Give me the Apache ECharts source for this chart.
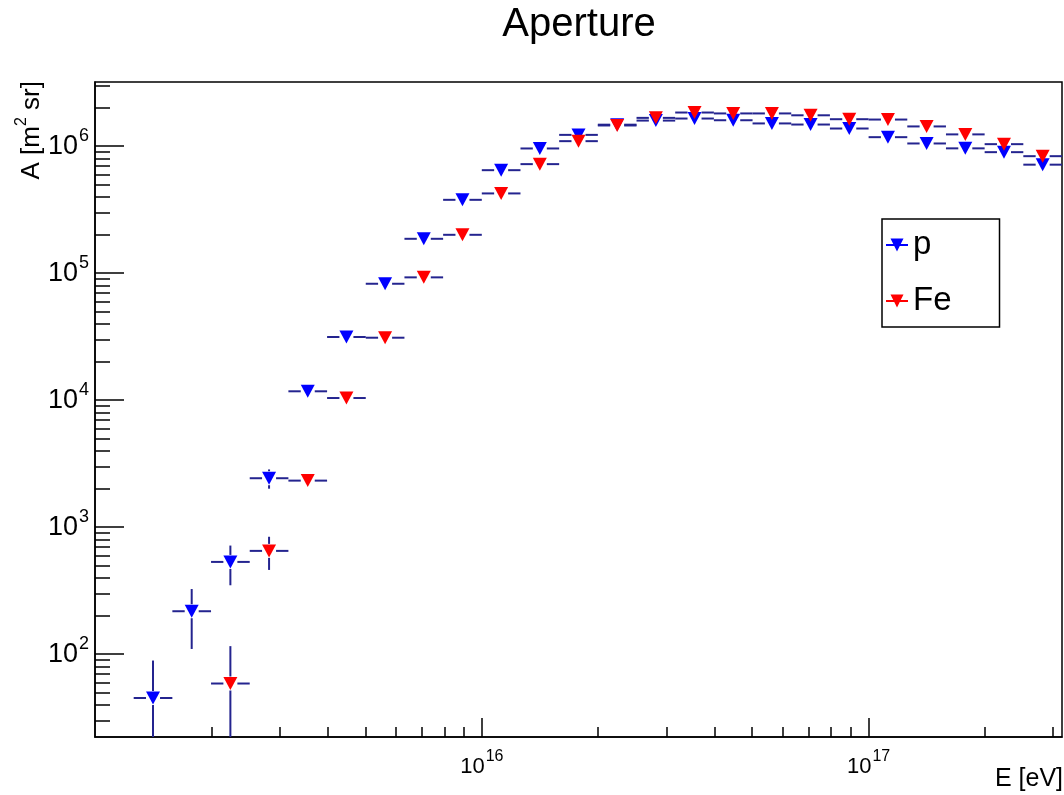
<!DOCTYPE html>
<html>
<head>
<meta charset="utf-8">
<script src="https://cdn.jsdelivr.net/npm/echarts@6/dist/echarts.min.js"></script>
<style>html,body{margin:0;padding:0;background:#fff}#c{width:1064px;height:795px}</style>
</head>
<body>
<div id="c"></div>
<script>
// ---------------- data ----------------
const binEdgesLog10 = [15.1,15.2,15.3,15.4,15.5,15.6,15.7,15.8,15.9,16.0,16.1,16.2,16.3,16.4,16.5,16.6,16.7,16.8,16.9,17.0,17.1,17.2,17.3,17.4,17.5];

const pFirstBin = 0;
const pValues = [45.2, 218, 533, 2430, 11750, 31430, 82550, 186500, 378000, 647000, 959000, 1227000, 1476000, 1590000, 1650000, 1600000, 1510000, 1480000, 1377000, 1177000, 1050000, 961000, 897000, 715000];
const pErrors = [44, 108, 184, 420, 1000, 1700, 2700, 4000, 5500, 7000, 8000, 9000, 10000, 10000, 10000, 10000, 10000, 10000, 10000, 9000, 9000, 8000, 8000, 7000];

const feFirstBin = 2;
const feValues = [58.8, 651, 2327, 10400, 31040, 92700, 200500, 424500, 722000, 1095000, 1455000, 1670000, 1840000, 1810000, 1810000, 1750000, 1630000, 1620000, 1430000, 1238000, 1037000, 834000];
const feErrors = [57, 190, 250, 700, 1500, 2800, 4500, 6500, 8500, 10000, 11000, 12000, 12000, 12000, 12000, 12000, 11000, 11000, 10000, 10000, 9000, 8000];

const xMajorTicks = [1e16, 1e17];
const xMinorTicks = [2e15,3e15,4e15,5e15,6e15,7e15,8e15,9e15,2e16,3e16,4e16,5e16,6e16,7e16,8e16,9e16,2e17,3e17];
const yMajorTicks = [1e2,1e3,1e4,1e5,1e6];
const yMinorTicks = [30,40,50,60,70,80,90,200,300,400,500,600,700,800,900,2e3,3e3,4e3,5e3,6e3,7e3,8e3,9e3,2e4,3e4,4e4,5e4,6e4,7e4,8e4,9e4,2e5,3e5,4e5,5e5,6e5,7e5,8e5,9e5,2e6,3e6];
const xRange = [1e15, 3.1623e17];
const yRange = [22.3, 3.2e6];

// ---------------- styling ----------------
const FONT = 'Liberation Sans';
const BAR_COLOR = '#24248f';
const P_COLOR = '#0000ff';
const FE_COLOR = '#ff0000';

function binPoints(first, vals, errs) {
  return vals.map((v, i) => {
    const lo = Math.pow(10, binEdgesLog10[first + i]);
    const hi = Math.pow(10, binEdgesLog10[first + i + 1]);
    return [lo, hi, v, errs[i]];
  });
}
const pBins = binPoints(pFirstBin, pValues, pErrors);
const feBins = binPoints(feFirstBin, feValues, feErrors);

function errorBars(name, bins) {
  return {
    type: 'custom', name: name, xAxisIndex: 0, yAxisIndex: 0, clip: true, silent: true,
    encode: { x: [0, 1], y: 2 },
    data: bins,
    renderItem: function (params, api) {
      const x0 = api.value(0), x1 = api.value(1), v = api.value(2), e = api.value(3);
      const xc = Math.sqrt(x0 * x1);
      const pL = api.coord([x0, v]), pR = api.coord([x1, v]), pC = api.coord([xc, v]);
      const pT = api.coord([xc, v + e]);
      const pB = api.coord([xc, Math.max(v - e, yRange[0])]);
      const gap = 7;
      const st = { stroke: BAR_COLOR, lineWidth: 2 };
      const ch = [];
      if (pC[0] - gap > pL[0]) ch.push({ type: 'line', shape: { x1: pL[0], y1: pC[1], x2: pC[0] - gap, y2: pC[1] }, style: st });
      if (pR[0] > pC[0] + gap) ch.push({ type: 'line', shape: { x1: pC[0] + gap, y1: pC[1], x2: pR[0], y2: pC[1] }, style: st });
      if (pC[1] - pT[1] > gap) ch.push({ type: 'line', shape: { x1: pC[0], y1: pT[1], x2: pC[0], y2: pC[1] - gap }, style: st });
      if (pB[1] - pC[1] > gap) ch.push({ type: 'line', shape: { x1: pC[0], y1: pC[1] + gap, x2: pC[0], y2: pB[1] }, style: st });
      return { type: 'group', children: ch };
    }
  };
}
function markers(name, bins, color) {
  return {
    type: 'scatter', name: name, xAxisIndex: 0, yAxisIndex: 0,
    symbol: 'triangle', symbolRotate: 180, symbolSize: [14, 13],
    itemStyle: { color: color, opacity: 1 },
    silent: true,
    data: bins.map(b => [Math.sqrt(b[0] * b[1]), b[2]])
  };
}

function powLabel(v) {
  const e = Math.round(Math.log10(v));
  return '{b|10}{s|' + e + '}';
}
const xLabelRich = {
  b: { fontSize: 22, fontFamily: FONT, color: '#000', padding: [7, 0, 7, 0] },
  s: { fontSize: 16, fontFamily: FONT, color: '#000', verticalAlign: 'top', padding: [0, 0, 0, 1] }
};
const yLabelRich = {
  b: { fontSize: 27, fontFamily: FONT, color: '#000', padding: [6, 0, 6, 0] },
  s: { fontSize: 18, fontFamily: FONT, color: '#000', verticalAlign: 'top', padding: [0, 0, 0, 1] }
};

const axisLineStyle = { color: '#000', width: 1.5 };

const legendIcon = 'path://M0,5.5 L22,5.5 L22,7.5 L0,7.5 Z M4.5,0 L17.5,0 L11,13 Z';

const option = {
  animation: false,
  backgroundColor: '#fff',
  grid: { left: 95, top: 82, width: 967, height: 655, show: true, borderColor: '#000', borderWidth: 1.5, backgroundColor: 'transparent' },
  xAxis: [
    {
      type: 'log', logBase: 10, min: xRange[0], max: xRange[1], position: 'bottom',
      axisLine: { show: true, lineStyle: axisLineStyle },
      axisTick: { show: true, inside: true, length: 19, customValues: xMajorTicks, lineStyle: { color: '#000', width: 1.5 } },
      axisLabel: { show: true, customValues: xMajorTicks, formatter: powLabel, fontSize: 22, fontFamily: FONT, color: '#000', rich: xLabelRich, margin: 12 },
      splitLine: { show: false }, minorTick: { show: false }, minorSplitLine: { show: false }
    },
    {
      type: 'log', logBase: 10, min: xRange[0], max: xRange[1], position: 'bottom',
      axisLine: { show: false },
      axisTick: { show: true, inside: true, length: 10, customValues: xMinorTicks, lineStyle: { color: '#000', width: 1.5 } },
      axisLabel: { show: false },
      splitLine: { show: false }
    }
  ],
  yAxis: [
    {
      type: 'log', logBase: 10, min: yRange[0], max: yRange[1], position: 'left',
      axisLine: { show: true, lineStyle: axisLineStyle },
      axisTick: { show: true, inside: true, length: 29, customValues: yMajorTicks, lineStyle: { color: '#000', width: 1.5 } },
      axisLabel: { show: true, customValues: yMajorTicks, formatter: powLabel, fontSize: 27, fontFamily: FONT, color: '#000', rich: yLabelRich, margin: 6 },
      splitLine: { show: false }
    },
    {
      type: 'log', logBase: 10, min: yRange[0], max: yRange[1], position: 'left',
      axisLine: { show: false },
      axisTick: { show: true, inside: true, length: 15, customValues: yMinorTicks, lineStyle: { color: '#000', width: 1.5 } },
      axisLabel: { show: false },
      splitLine: { show: false }
    }
  ],
  legend: {
    orient: 'vertical', left: 882, top: 219,
    padding: [9, 48, 9, 4], itemGap: 22, itemWidth: 22, itemHeight: 13,
    borderColor: '#000', borderWidth: 1.5, backgroundColor: '#fff',
    symbolRotate: 0,
    textStyle: { fontSize: 33, fontFamily: FONT, color: '#000', lineHeight: 34 },
    data: [{ name: 'p', icon: legendIcon }, { name: 'Fe', icon: legendIcon }],
    selectedMode: false
  },
  graphic: [
    { type: 'text', x: 579, y: 25, style: { text: 'Aperture', fontSize: 40, fontFamily: FONT, fill: '#000', textAlign: 'center', textVerticalAlign: 'middle' } },
    { type: 'text', x: 1063, y: 779, style: { text: 'E [eV]', fontSize: 25, fontFamily: FONT, fill: '#000', textAlign: 'right', textVerticalAlign: 'middle' } },
    { type: 'text', x: 29, y: 81, rotation: Math.PI / 2,
      style: { text: '{n|A [m}{s|2}{n| sr]}', textAlign: 'right', textVerticalAlign: 'middle', fontSize: 26, fontFamily: FONT, fill: '#000',
        rich: { n: { fontSize: 26, fontFamily: FONT, fill: '#000', padding: [5, 0, 0, 0] }, s: { fontSize: 16, fontFamily: FONT, fill: '#000', verticalAlign: 'top' } } } }
  ],
  series: [
    errorBars('pErr', pBins),
    markers('p', pBins, P_COLOR),
    errorBars('feErr', feBins),
    markers('Fe', feBins, FE_COLOR)
  ]
};

const chart = echarts.init(document.getElementById('c'), null, { renderer: 'canvas' });
chart.setOption(option);
</script>
</body>
</html>
